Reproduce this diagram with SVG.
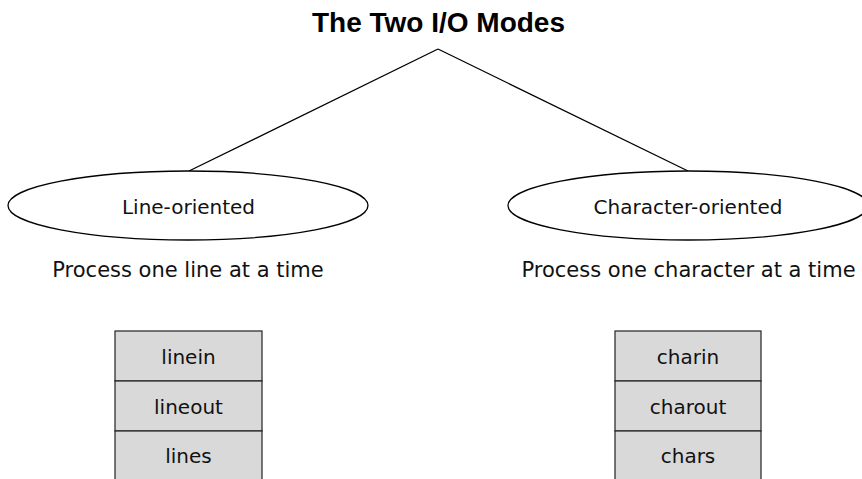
<svg xmlns="http://www.w3.org/2000/svg" width="862" height="479" viewBox="0 0 862 479">
<style>
.title{font-family:"Liberation Sans",Arial,sans-serif;font-weight:bold;font-size:28px;fill:#000;text-anchor:middle}
.lbl{font-family:"DejaVu Sans",sans-serif;font-size:20px;fill:#111;text-anchor:middle}
.desc{font-family:"DejaVu Sans",sans-serif;font-size:21px;fill:#111;text-anchor:middle}
.ell{fill:#fff;stroke:#000;stroke-width:1.3}
.cell{fill:#d9d9d9;stroke:#222;stroke-width:1.2}
.conn{stroke:#000;stroke-width:1.3;fill:none}
</style>
<rect width="862" height="479" fill="#fff"/>
<text class="title" x="438.5" y="32">The Two I/O Modes</text>
<g id="connectors">
<line class="conn" x1="438" y1="49" x2="189" y2="171"/>
<line class="conn" x1="438" y1="49" x2="688" y2="171"/>
</g>
<g id="line-oriented">
<ellipse class="ell" cx="188" cy="205.5" rx="180" ry="34.5"/>
<text class="lbl" x="188.5" y="214">Line-oriented</text>
</g>
<g id="character-oriented">
<ellipse class="ell" cx="688" cy="205.5" rx="180" ry="34.5"/>
<text class="lbl" x="688" y="214">Character-oriented</text>
</g>
<text class="desc" x="188" y="277">Process one line at a time</text>
<text class="desc" x="688.5" y="277">Process one character at a time</text>
<g id="line-functions">
<rect class="cell" x="115" y="331" width="147" height="50"/>
<rect class="cell" x="115" y="381" width="147" height="50"/>
<rect class="cell" x="115" y="431" width="147" height="50"/>
<text class="lbl" x="188.5" y="364">linein</text>
<text class="lbl" x="188.5" y="414">lineout</text>
<text class="lbl" x="188.5" y="463">lines</text>
</g>
<g id="char-functions">
<rect class="cell" x="615" y="331" width="146" height="50"/>
<rect class="cell" x="615" y="381" width="146" height="50"/>
<rect class="cell" x="615" y="431" width="146" height="50"/>
<text class="lbl" x="688" y="364">charin</text>
<text class="lbl" x="688" y="414">charout</text>
<text class="lbl" x="688" y="463">chars</text>
</g>
</svg>
